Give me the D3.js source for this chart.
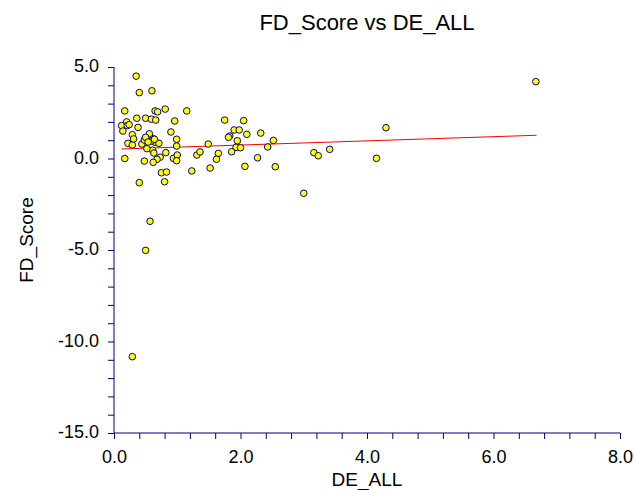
<!DOCTYPE html>
<html>
<head>
<meta charset="utf-8">
<script src="https://cdn.jsdelivr.net/npm/d3@7"></script>
<style>
  body { margin: 0; background: #fff; }
  text { font-family: "Liberation Sans", Arial, sans-serif; }
</style>
</head>
<body>
<div id="chart"></div>
<script>
// DE_ALL on x, FD_Score on y
var deAll = [
  0.35, 0.40, 0.60, 6.67,
  0.17, 0.36, 0.65, 0.69, 0.81, 1.15, 1.75, 2.05,
  0.12, 0.20, 0.21, 0.14, 0.24, 0.38, 0.50, 0.59, 0.66, 0.96,
  0.29, 0.56, 0.90, 1.90, 1.98, 1.83, 2.10, 2.32, 4.30,
  0.22, 0.29, 0.31, 0.44, 0.48, 0.50, 0.62, 0.65, 0.71, 0.59, 0.64, 0.54,
  0.99, 0.99, 1.49, 1.81, 1.95, 1.93, 2.52, 2.00, 2.43,
  0.17, 0.61, 0.63, 0.73, 0.68, 0.82, 0.94, 1.00, 0.99, 1.31, 1.36, 1.65,
  1.62, 1.86, 2.27, 3.16, 3.23, 3.41, 4.15, 0.52,
  0.48, 0.62, 0.75, 0.83, 0.80, 1.23, 1.52, 0.40, 2.07, 2.55, 3.00,
  0.57, 0.50, 0.29
];
var fdScore = [
  4.50, 3.60, 3.70, 4.20,
  2.60, 2.20, 2.60, 2.55, 2.70, 2.60, 2.10, 2.07,
  1.80, 2.00, 1.80, 1.50, 1.85, 1.70, 2.20, 2.15, 2.10, 2.05,
  1.30, 1.35, 1.45, 1.56, 1.56, 1.23, 1.32, 1.39, 1.68,
  0.83, 0.74, 1.07, 0.79, 1.01, 1.16, 1.08, 0.89, 0.83, 0.95, 1.05, 0.90,
  1.05, 0.68, 0.79, 1.16, 0.97, 0.61, 0.99, 0.59, 0.63,
  0.00, 0.46, 0.30, 0.07, -0.04, 0.32, 0.01, 0.19, -0.12, 0.19, 0.36, 0.28,
  -0.04, 0.37, 0.04, 0.32, 0.15, 0.50, 0.01, 0.54,
  -0.14, -0.21, -0.78, -0.74, -1.27, -0.68, -0.52, -1.32, -0.43, -0.45, -1.90,
  -3.43, -5.02, -10.83
];

// fitted line ends (as drawn)
var fitX = [0.12, 6.68];
var fitY = [0.52, 1.27];

var xTickLabels = [0, 2, 4, 6, 8];
var yTickLabels = [5, 0, -5, -10, -15];

var w = 635, h = 490;
// don't call it "top", window.top is read only
var pLeft = 114, pRight = 620, pTop = 67, pBottom = 433;
var navy = "#000080";

var svg = d3.select("#chart").append("svg")
  .attr("width", w)
  .attr("height", h)
  .style("background-color", "white");

var x = d3.scaleLinear().domain([0, 8]).range([pLeft, pRight]);
var y = d3.scaleLinear().domain([-15, 5]).range([pBottom, pTop]);

// plain hyphen, not d3's unicode minus
function fmt(d) { return d.toFixed(1); }

// minor ticks first, no labels
var xMinor = d3.axisBottom(x).tickValues(d3.range(0, 8.0001, 0.4)).tickSize(6).tickFormat("");
var yMinor = d3.axisLeft(y).tickValues(d3.range(-15, 5.0001, 1)).tickSize(6).tickFormat("");

var gx = svg.append("g").attr("transform", "translate(0," + pBottom + ")").call(xMinor);
var gy = svg.append("g").attr("transform", "translate(" + pLeft + ",0)").call(yMinor);

[gx, gy].forEach(function(g) {
  g.select(".domain").attr("stroke", navy);
  g.selectAll(".tick line").attr("stroke", navy);
});
gx.select(".domain").attr("d", "M" + pLeft + ",0H" + pRight);
gy.select(".domain").attr("d", "M0," + pTop + "V" + pBottom);

// labelled ticks
var xLab = d3.axisBottom(x).tickValues(xTickLabels).tickSize(0).tickPadding(17).tickFormat(fmt);
var yLab = d3.axisLeft(y).tickValues(yTickLabels).tickSize(0).tickPadding(15).tickFormat(fmt);

svg.append("g").attr("transform", "translate(0," + pBottom + ")").call(xLab)
  .call(function(g) { g.select(".domain").remove(); })
  .selectAll("text").attr("font-size", 18).attr("fill", "black")
  .attr("font-family", "Liberation Sans, Arial, sans-serif");

svg.append("g").attr("transform", "translate(" + pLeft + ",0)").call(yLab)
  .call(function(g) { g.select(".domain").remove(); })
  .selectAll("text").attr("font-size", 18).attr("fill", "black")
  .attr("dy", "0.25em")
  .attr("font-family", "Liberation Sans, Arial, sans-serif");

// regression line
svg.append("line")
  .attr("x1", x(fitX[0])).attr("y1", y(fitY[0]))
  .attr("x2", x(fitX[1])).attr("y2", y(fitY[1]))
  .attr("stroke", "red").attr("stroke-width", 1);

// the dots
svg.selectAll("circle.pt")
  .data(d3.range(deAll.length))
  .enter().append("circle")
  .attr("class", "pt")
  .attr("cx", function(i) { return x(deAll[i]); })
  .attr("cy", function(i) { return y(fdScore[i]); })
  .attr("r", 3.3)
  .attr("fill", "#ffff00")
  .attr("stroke", navy)
  .attr("stroke-width", 1);

// titles
svg.append("text")
  .attr("x", (pLeft + pRight) / 2).attr("y", 30)
  .attr("text-anchor", "middle").attr("font-size", 22)
  .text("FD_Score vs DE_ALL");

svg.append("text")
  .attr("x", (pLeft + pRight) / 2).attr("y", 486)
  .attr("text-anchor", "middle").attr("font-size", 19)
  .text("DE_ALL");

svg.append("text")
  .attr("transform", "translate(33,240) rotate(-90)")
  .attr("text-anchor", "middle").attr("font-size", 19)
  .text("FD_Score");
</script>
</body>
</html>
